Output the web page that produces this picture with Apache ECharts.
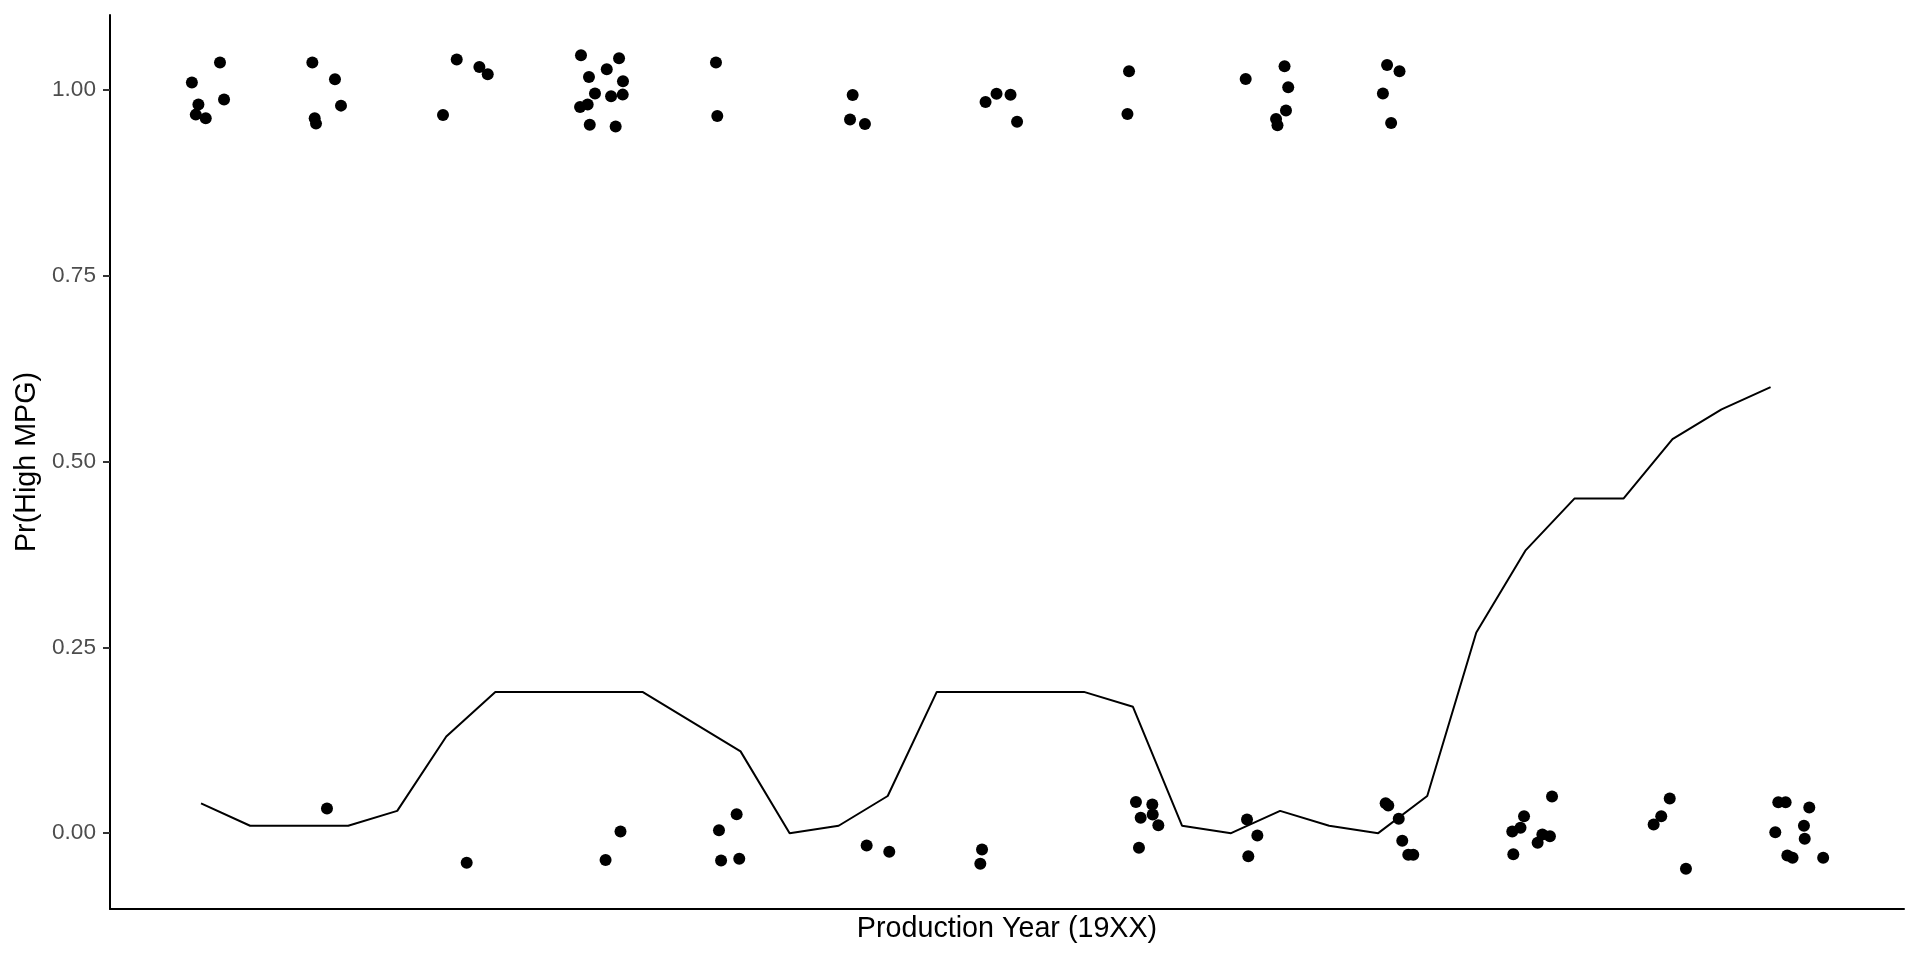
<!DOCTYPE html>
<html>
<head>
    <meta charset="utf-8">
    <title>Pr(High MPG)</title>
    <script src="https://cdn.jsdelivr.net/npm/echarts@6/dist/echarts.min.js"></script>
    <style>
        html, body { margin: 0; padding: 0; background: #fff; }
    </style>
</head>
<body>
<div id="main" style="width: 1920px;height:960px;"></div>
<script type="text/javascript">
    // 拟合曲线（按年份）
    var lineYear = [70, 70.375, 70.75, 71.125, 71.5, 71.875, 72.25, 72.625, 73, 73.375, 73.75,
        74.125, 74.5, 74.875, 75.25, 75.625, 76, 76.375, 76.75, 77.125, 77.5, 77.875,
        78.25, 78.625, 79, 79.375, 79.75, 80.125, 80.5, 80.875, 81.25, 81.625, 82];
    var lineProb = [0.04, 0.01, 0.01, 0.01, 0.03, 0.13, 0.19, 0.19, 0.19, 0.19, 0.15,
        0.11, 0.00, 0.01, 0.05, 0.19, 0.19, 0.19, 0.19, 0.17, 0.01, 0.00,
        0.03, 0.01, 0.00, 0.05, 0.27, 0.38, 0.45, 0.45, 0.53, 0.57, 0.60];

    // 抖动后的观测点
    var pointYear = [
        69.93, 70.145, 69.98, 70.176, 69.96, 70.036,
        70.851, 71.024, 71.07, 70.869, 70.879, 70.963,
        71.85, 71.955, 72.128, 72.192, 72.031,
        72.905, 73.196, 73.102, 72.966, 73.226, 73.012, 73.135, 73.224, 72.898, 72.956, 72.972, 73.17, 73.093, 73.207,
        73.937, 73.947, 73.96, 74.095, 73.976, 74.115,
        74.982, 74.962, 75.076, 75.089, 75.262,
        75.998, 76.082, 76.189, 76.239, 75.971, 75.958,
        77.095, 77.083, 77.148, 77.273, 77.184, 77.276, 77.319, 77.171,
        77.987, 78.284, 78.312, 78.295, 78.219, 78.23, 77.997, 78.076, 78.007,
        79.068, 79.163, 79.036, 79.099, 79.057, 79.077, 79.157, 79.184, 79.23, 79.268,
        80.329, 80.115, 80.088, 80.025, 80.255, 80.313, 80.219, 80.033,
        81.229, 81.164, 81.106, 81.353,
        82.059, 82.115, 82.296, 82.255, 82.036, 82.261, 82.128, 82.168, 82.402
    ];
    var pointHigh = [
        1.0096, 1.0365, 0.980, 0.9867, 0.9665, 0.9615,
        1.0365, 1.014, 0.9786, 0.9615, 0.9544, 0.0332,
        0.966, 1.0405, 1.0305, 1.0207, -0.0398,
        1.0463, 1.0423, 1.0274, 1.0171, 1.0113, 0.9948, 0.9911, 0.9934, 0.9767, 0.980, 0.953, 0.9504, -0.036, 0.0023,
        1.0365, 0.9646, 0.004, 0.0256, -0.0367, -0.0344,
        0.9929, 0.9598, 0.9539, -0.0165, -0.025,
        0.9834, 0.9945, 0.9931, 0.9568, -0.0219, -0.0412,
        1.0248, 0.9673, 0.042, 0.0386, 0.0207, 0.0252, 0.0108, -0.0196,
        1.0144, 1.0315, 1.0032, 0.9719, 0.9606, 0.9521, 0.0184, -0.0031, -0.0309,
        1.0332, 1.0248, 0.9948, 0.9552, 0.0404, 0.0373, 0.0194, -0.0102, -0.0291, -0.0291,
        0.0494, 0.0229, 0.0073, 0.0023, -0.0017, -0.004, -0.0129, -0.0283,
        0.0467, 0.0229, 0.0117, -0.0479,
        0.0417, 0.0417, 0.0346, 0.01, 0.0013, -0.0075, -0.03, -0.0331, -0.0331
    ];

    // y轴刻度
    var yTicks = [0, 0.25, 0.5, 0.75, 1.0];

    var lineData = [];
    for (var i = 0; i < lineYear.length; i++) {
        lineData.push([lineYear[i], lineProb[i]]);
    }
    var pointData = [];
    for (var j = 0; j < pointYear.length; j++) {
        pointData.push([pointYear[j], pointHigh[j]]);
    }

    var myChart = echarts.init(document.getElementById('main'));
    var option = {
        backgroundColor: '#ffffff',
        animation: false,
        textStyle: { fontFamily: 'Liberation Sans' },
        grid: { left: 110, right: 16, top: 15, bottom: 51 },
        xAxis: {
            type: 'value',
            min: 69.304,
            max: 83.02,
            name: 'Production Year (19XX)',
            nameLocation: 'middle',
            nameGap: 6,
            nameTextStyle: { color: '#000', fontSize: 28.7, fontFamily: 'Liberation Sans' },
            axisLine: { onZero: false, lineStyle: { color: '#000', width: 2 } },
            axisTick: { show: false },
            axisLabel: { show: false },
            splitLine: { show: false }
        },
        yAxis: {
            type: 'value',
            min: -0.102,
            max: 1.1005,
            name: 'Pr(High MPG)',
            nameLocation: 'middle',
            nameGap: 66,
            nameTextStyle: { color: '#000', fontSize: 28.7, fontFamily: 'Liberation Sans' },
            axisLine: { show: true, onZero: false, lineStyle: { color: '#000', width: 2 } },
            axisTick: { show: true, customValues: yTicks, length: 7, lineStyle: { color: '#333', width: 2 } },
            axisLabel: {
                customValues: yTicks,
                margin: 14,
                color: '#4d4d4d',
                fontSize: 22.6,
                fontFamily: 'Liberation Sans',
                formatter: function (v) { return v.toFixed(2); }
            },
            splitLine: { show: false }
        },
        series: [
            {
                type: 'scatter',
                data: pointData,
                symbol: 'circle',
                symbolSize: 12,
                itemStyle: { color: '#000', opacity: 1 }
            },
            {
                type: 'line',
                data: lineData,
                symbol: 'none',
                lineStyle: { color: '#000', width: 2 }
            }
        ]
    };
    myChart.setOption(option);
</script>
</body>
</html>
